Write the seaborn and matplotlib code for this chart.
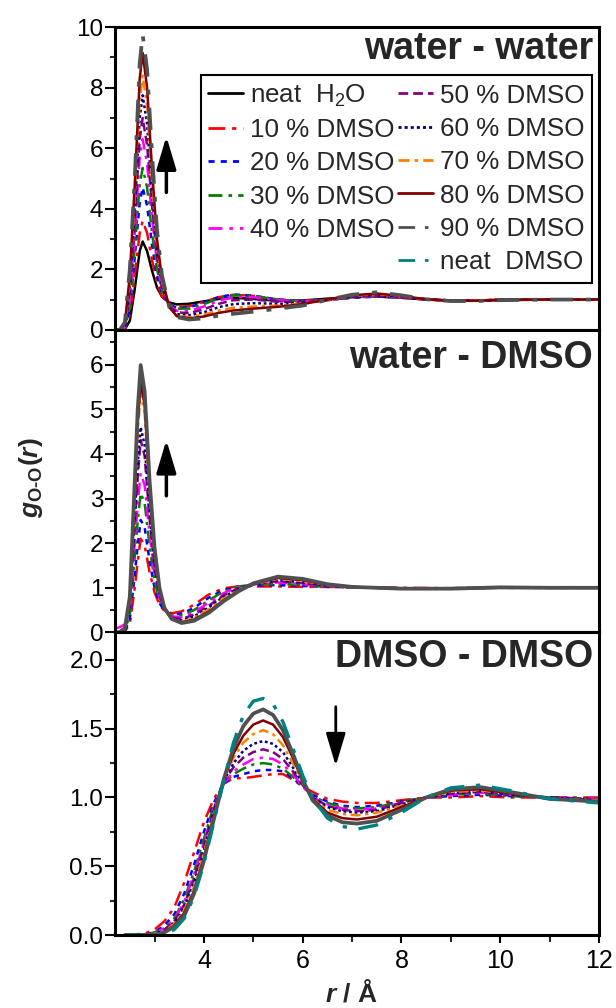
"""
g_O-O(r) radial distribution functions of water/DMSO mixtures
three stacked panels: water-water, water-DMSO, DMSO-DMSO
"""

import matplotlib
matplotlib.use('Agg')
import matplotlib.pyplot as plt
from matplotlib.lines import Line2D
from matplotlib.ticker import MultipleLocator, FormatStrFormatter
import seaborn as sns

# ---- legend / series names ----
names = ['neat  H$_2$O', '10 % DMSO', '20 % DMSO', '30 % DMSO', '40 % DMSO',
         '50 % DMSO', '60 % DMSO', '70 % DMSO', '80 % DMSO', '90 % DMSO',
         'neat  DMSO']

# ---- water - water (r in Angstrom) ----
r_ww = [2.2, 2.3, 2.4, 2.5, 2.6, 2.7, 2.76, 2.85, 2.95, 3.05, 3.15, 3.3, 3.45,
        3.7, 4.0, 4.3, 4.6, 5.0, 5.5, 6.0, 6.5, 7.0, 7.5, 8.0, 8.5, 9.0, 9.5,
        10.0, 11.0, 12.0]
ww_h2o = [0, 0, 0.02, 0.3, 1.35, 2.6, 2.92, 2.6, 1.95, 1.4, 1.1, 0.9, 0.84,
          0.86, 0.94, 1.02, 1.06, 1.02, 0.96, 0.97, 1.03, 1.08, 1.1, 1.06, 1.0,
          0.96, 0.96, 0.98, 1.0, 1.0]
ww_10 = [0, 0, 0.04, 0.5, 1.8, 3.2, 3.6, 3.2, 2.3, 1.55, 1.1, 0.85, 0.76,
         0.78, 0.92, 1.08, 1.16, 1.12, 1.0, 0.96, 1.0, 1.06, 1.1, 1.06, 1.0,
         0.97, 0.97, 0.99, 1.0, 1.0]
ww_20 = [0, 0, 0.05, 0.7, 2.4, 4.2, 4.7, 4.1, 2.8, 1.8, 1.2, 0.85, 0.72,
         0.74, 0.9, 1.08, 1.17, 1.13, 1.0, 0.95, 0.99, 1.06, 1.1, 1.07, 1.01,
         0.97, 0.97, 0.99, 1.0, 1.0]
ww_30 = [0, 0, 0.06, 0.8, 2.7, 4.8, 5.35, 4.7, 3.2, 2.0, 1.3, 0.85, 0.7,
         0.7, 0.85, 1.03, 1.14, 1.12, 1.0, 0.94, 0.98, 1.07, 1.12, 1.08, 1.01,
         0.97, 0.97, 0.99, 1.0, 1.0]
ww_40 = [0, 0, 0.08, 1.0, 3.2, 5.7, 6.3, 5.5, 3.7, 2.2, 1.35, 0.8, 0.63,
         0.62, 0.77, 0.96, 1.08, 1.08, 0.98, 0.93, 0.98, 1.08, 1.13, 1.08, 1.01,
         0.97, 0.97, 0.99, 1.0, 1.0]
ww_50 = [0, 0, 0.1, 1.2, 3.6, 6.3, 7.0, 6.1, 4.1, 2.4, 1.4, 0.78, 0.58,
         0.55, 0.68, 0.86, 0.98, 1.0, 0.93, 0.91, 0.98, 1.09, 1.14, 1.09, 1.01,
         0.97, 0.97, 0.99, 1.0, 1.0]
ww_60 = [0, 0, 0.12, 1.4, 4.0, 7.0, 7.75, 6.8, 4.5, 2.6, 1.5, 0.75, 0.52,
         0.48, 0.58, 0.75, 0.85, 0.88, 0.86, 0.89, 0.99, 1.1, 1.16, 1.1, 1.01,
         0.97, 0.97, 0.99, 1.0, 1.0]
ww_70 = [0, 0, 0.15, 1.6, 4.4, 7.6, 8.4, 7.4, 4.9, 2.8, 1.6, 0.75, 0.47,
         0.42, 0.5, 0.64, 0.73, 0.77, 0.8, 0.87, 0.99, 1.12, 1.18, 1.11, 1.01,
         0.96, 0.96, 0.99, 1.0, 1.0]
ww_80 = [0, 0, 0.2, 1.8, 4.8, 8.3, 9.15, 8.0, 5.3, 3.0, 1.7, 0.75, 0.45,
         0.38, 0.44, 0.56, 0.64, 0.7, 0.76, 0.85, 1.0, 1.14, 1.2, 1.12, 1.01,
         0.96, 0.96, 0.99, 1.0, 1.0]
ww_90 = [0, 0, 0.25, 2.0, 5.0, 8.8, 9.75, 8.6, 5.8, 3.3, 1.8, 0.75, 0.42,
         0.34, 0.38, 0.47, 0.53, 0.6, 0.7, 0.8, 0.99, 1.16, 1.24, 1.14, 1.01,
         0.95, 0.95, 0.98, 1.0, 1.0]

# ---- water - DMSO ----
r_wd = [2.2, 2.3, 2.4, 2.5, 2.6, 2.66, 2.72, 2.8, 2.9, 3.0, 3.1, 3.2, 3.35,
        3.55, 3.8, 4.1, 4.4, 4.7, 5.0, 5.5, 6.0, 6.5, 7.0, 8.0, 9.0, 10.0,
        11.0, 12.0]
wd_10 = [0, 0, 0.02, 0.2, 1.0, 1.6, 2.1, 1.95, 1.35, 0.9, 0.62, 0.48, 0.43,
         0.47, 0.62, 0.85, 0.99, 1.03, 1.03, 1.03, 1.02, 1.02, 1.01, 1.0, 0.99,
         1.0, 1.0, 1.0]
wd_20 = [0, 0, 0.03, 0.3, 1.3, 1.95, 2.52, 2.35, 1.6, 1.0, 0.66, 0.48, 0.4,
         0.42, 0.55, 0.78, 0.95, 1.03, 1.05, 1.06, 1.04, 1.02, 1.01, 0.99, 0.99,
         1.0, 1.0, 1.0]
wd_30 = [0, 0, 0.04, 0.4, 1.7, 2.5, 3.12, 2.9, 1.95, 1.15, 0.72, 0.5, 0.38,
         0.38, 0.5, 0.72, 0.92, 1.03, 1.07, 1.09, 1.06, 1.03, 1.01, 0.99, 0.99,
         1.0, 1.0, 1.0]
wd_40 = [0.08, 0.12, 0.18, 0.55, 2.0, 2.9, 3.57, 3.3, 2.2, 1.3, 0.78, 0.5, 0.36,
         0.34, 0.45, 0.67, 0.88, 1.02, 1.08, 1.12, 1.08, 1.04, 1.01, 0.99, 0.99,
         1.0, 1.0, 1.0]
wd_50 = [0, 0, 0.06, 0.6, 2.4, 3.5, 4.31, 3.95, 2.55, 1.45, 0.85, 0.52, 0.33,
         0.3, 0.4, 0.6, 0.83, 0.99, 1.08, 1.15, 1.1, 1.05, 1.01, 0.99, 0.99,
         1.0, 1.0, 1.0]
wd_60 = [0, 0, 0.07, 0.65, 2.6, 3.8, 4.6, 4.2, 2.7, 1.55, 0.88, 0.52, 0.31,
         0.27, 0.36, 0.56, 0.8, 0.97, 1.08, 1.17, 1.12, 1.05, 1.01, 0.99, 0.99,
         1.0, 1.0, 1.0]
wd_70 = [0, 0, 0.08, 0.72, 3.0, 4.5, 5.39, 4.9, 3.1, 1.75, 0.95, 0.54, 0.3,
         0.24, 0.32, 0.52, 0.76, 0.95, 1.08, 1.2, 1.15, 1.06, 1.01, 0.98, 0.98,
         1.01, 1.0, 1.0]
wd_80 = [0, 0, 0.09, 0.76, 3.2, 4.7, 5.59, 5.1, 3.25, 1.82, 0.98, 0.55, 0.3,
         0.22, 0.29, 0.47, 0.72, 0.93, 1.09, 1.22, 1.17, 1.07, 1.02, 0.98, 0.98,
         1.01, 1.0, 1.0]
wd_90 = [0, 0.01, 0.1, 0.8, 3.4, 5.0, 5.99, 5.4, 3.4, 1.9, 1.0, 0.55, 0.3,
         0.21, 0.26, 0.44, 0.7, 0.92, 1.1, 1.25, 1.2, 1.08, 1.02, 0.98, 0.98,
         1.01, 1.0, 1.0]

# ---- DMSO - DMSO ----
r_dd = [2.4, 2.8, 3.0, 3.2, 3.4, 3.6, 3.8, 4.0, 4.2, 4.4, 4.6, 4.8, 5.0, 5.2,
        5.4, 5.6, 5.8, 6.0, 6.2, 6.5, 6.8, 7.1, 7.5, 8.0, 8.5, 9.0, 9.6, 10.2,
        11.0, 12.0]
dd_10 = [0, 0.01, 0.04, 0.1, 0.2, 0.38, 0.6, 0.82, 0.99, 1.1, 1.14, 1.14,
         1.15, 1.16, 1.17, 1.17, 1.13, 1.08, 1.04, 0.99, 0.97, 0.96, 0.96, 0.98,
         1.0, 1.0, 1.01, 1.0, 1.0, 1.0]
dd_20 = [0, 0, 0.02, 0.07, 0.15, 0.3, 0.51, 0.75, 0.96, 1.1, 1.15, 1.17,
         1.19, 1.2, 1.2, 1.19, 1.14, 1.08, 1.02, 0.97, 0.94, 0.93, 0.94, 0.97,
         1.0, 1.01, 1.02, 1.01, 1.0, 0.99]
dd_30 = [0, 0, 0.02, 0.05, 0.12, 0.26, 0.46, 0.7, 0.94, 1.1, 1.17, 1.21,
         1.24, 1.25, 1.24, 1.21, 1.15, 1.08, 1.01, 0.96, 0.93, 0.92, 0.93, 0.97,
         1.0, 1.02, 1.03, 1.01, 1.0, 0.99]
dd_40 = [0, 0, 0.01, 0.05, 0.11, 0.24, 0.44, 0.67, 0.92, 1.1, 1.19, 1.24,
         1.28, 1.29, 1.28, 1.24, 1.17, 1.08, 1.0, 0.95, 0.92, 0.91, 0.92, 0.96,
         1.0, 1.02, 1.035, 1.02, 1.0, 0.99]
dd_50 = [0, 0, 0.01, 0.04, 0.1, 0.22, 0.41, 0.65, 0.91, 1.11, 1.22, 1.29,
         1.33, 1.35, 1.33, 1.28, 1.19, 1.09, 1.0, 0.94, 0.91, 0.9, 0.91, 0.96,
         1.0, 1.03, 1.04, 1.02, 1.0, 0.98]
dd_60 = [0, 0, 0.01, 0.03, 0.09, 0.2, 0.38, 0.62, 0.9, 1.12, 1.25, 1.34,
         1.39, 1.41, 1.39, 1.33, 1.22, 1.1, 1.0, 0.93, 0.9, 0.89, 0.9, 0.95,
         1.0, 1.03, 1.045, 1.02, 1.0, 0.98]
dd_70 = [0, 0, 0.01, 0.03, 0.08, 0.18, 0.35, 0.59, 0.88, 1.13, 1.29, 1.4,
         1.46, 1.49, 1.46, 1.38, 1.25, 1.11, 0.99, 0.91, 0.88, 0.87, 0.89, 0.94,
         1.0, 1.04, 1.05, 1.03, 0.99, 0.98]
dd_80 = [0, 0, 0, 0.02, 0.07, 0.16, 0.32, 0.56, 0.86, 1.13, 1.32, 1.45,
         1.53, 1.56, 1.53, 1.44, 1.29, 1.12, 0.99, 0.89, 0.85, 0.84, 0.86, 0.93,
         1.0, 1.05, 1.06, 1.03, 0.99, 0.97]
dd_90 = [0, 0, 0, 0.02, 0.06, 0.14, 0.3, 0.54, 0.84, 1.13, 1.36, 1.52,
         1.61, 1.64, 1.6, 1.49, 1.32, 1.13, 0.98, 0.87, 0.82, 0.81, 0.83, 0.91,
         1.0, 1.06, 1.075, 1.04, 0.99, 0.97]
dd_dmso = [0, 0, 0, 0.01, 0.04, 0.12, 0.28, 0.52, 0.82, 1.12, 1.4, 1.6,
           1.7, 1.72, 1.68, 1.55, 1.36, 1.16, 1.0, 0.85, 0.79, 0.77, 0.8, 0.89,
           1.0, 1.07, 1.09, 1.05, 0.99, 0.96]

# ---- styles (same order as names) ----
colors = ['#000000', '#ff0000', '#0000ff', '#008000', '#ff00ff', '#800080',
          '#000080', '#ff8000', '#800000', '#505050', '#008080']
styles = ['-', (0, (6, 2.5, 1.5, 2.5)), (0, (2.2, 2.2)), (0, (5, 2.2, 1.3, 2.2)),
          (0, (5, 2.5, 1.3, 2.5)), (0, (3.5, 1.8)), (0, (1.1, 1.1)),
          (0, (4, 1.8, 1.3, 1.8)), '-', (0, (6, 3.5, 1.3, 3.5)), (0, (6, 3.5, 1.3, 3.5))]
widths = [1.8, 1.8, 1.8, 1.8, 1.8, 1.8, 1.8, 1.8, 1.8, 2.7, 2.4]


def draw(ax, r, series, idx, solid_gray=False):
    for k, y in zip(idx, series):
        ls = styles[k]
        if solid_gray and k == 9:
            ls = '-'
        sns.lineplot(x=r, y=y, ax=ax, color=colors[k], linestyle=ls,
                     lw=widths[k], sort=False, estimator=None)


sns.set_theme(style='ticks')
plt.rcParams['font.family'] = ['Liberation Sans', 'DejaVu Sans']
plt.rcParams['mathtext.fontset'] = 'custom'
plt.rcParams['mathtext.rm'] = 'Liberation Sans'
plt.rcParams['mathtext.it'] = 'Liberation Sans:italic'
plt.rcParams['mathtext.bf'] = 'Liberation Sans:bold'
plt.rcParams['mathtext.bfit'] = 'Liberation Sans:bold:italic'

fig, axes = plt.subplots(3, 1, figsize=(6.16, 10.08), dpi=100, sharex=True)
fig.subplots_adjust(left=0.1867, right=0.9724, top=0.973, bottom=0.0724, hspace=0)
ax1, ax2, ax3 = axes

draw(ax1, r_ww, [ww_h2o, ww_10, ww_20, ww_30, ww_40, ww_50, ww_60, ww_70, ww_80, ww_90],
     range(10))
draw(ax2, r_wd, [wd_10, wd_20, wd_30, wd_40, wd_50, wd_60, wd_70, wd_80, wd_90],
     range(1, 10), solid_gray=True)
draw(ax3, r_dd, [dd_10, dd_20, dd_30, dd_40, dd_50, dd_60, dd_70, dd_80, dd_90, dd_dmso],
     range(1, 11), solid_gray=True)

ax1.set_ylim(0, 10)
ax1.yaxis.set_major_locator(MultipleLocator(2))
ax1.yaxis.set_minor_locator(MultipleLocator(1))
ax2.set_ylim(0, 6.78)
ax2.yaxis.set_major_locator(MultipleLocator(1))
ax2.yaxis.set_minor_locator(MultipleLocator(0.5))
ax3.set_ylim(0, 2.2)
ax3.yaxis.set_major_locator(MultipleLocator(0.5))
ax3.yaxis.set_minor_locator(MultipleLocator(0.25))
ax3.yaxis.set_major_formatter(FormatStrFormatter('%.1f'))
ax3.set_xlim(2.2, 12)
ax3.xaxis.set_major_locator(MultipleLocator(2))
ax3.xaxis.set_minor_locator(MultipleLocator(1))

for ax in axes:
    for s in ax.spines.values():
        s.set_visible(True)
        s.set_linewidth(2.2)
        s.set_color('black')
    ax.set_xlabel('')
    ax.set_ylabel('')
    ax.tick_params(axis='y', which='major', direction='out', length=7, width=1.5,
                   labelsize=17.5, pad=1.5, colors='black')
    ax.tick_params(axis='y', which='minor', direction='out', length=3.5, width=1.5)
    ax.tick_params(axis='x', which='both', bottom=False, labelbottom=False)
ax3.tick_params(axis='x', which='major', bottom=True, labelbottom=True, direction='out',
                length=6, width=1.5, labelsize=18, pad=4, colors='black')
ax3.tick_params(axis='x', which='minor', bottom=True, direction='out', length=5, width=1.5)

# panel titles
ax1.text(0.988, 0.895, 'water - water', transform=ax1.transAxes, ha='right',
         va='baseline', fontsize=27, fontweight='bold')
ax2.text(0.988, 0.875, 'water - DMSO', transform=ax2.transAxes, ha='right',
         va='baseline', fontsize=27, fontweight='bold')
ax3.text(0.988, 0.886, 'DMSO - DMSO', transform=ax3.transAxes, ha='right',
         va='baseline', fontsize=27, fontweight='bold')

# arrows
arrow_kw = dict(arrowstyle='-|>,head_length=0.5,head_width=0.15', color='black',
                lw=2.5, shrinkA=0, shrinkB=0, mutation_scale=40)
ax1.annotate('', xy=(3.24, 6.39), xytext=(3.24, 4.54), arrowprops=arrow_kw)
ax2.annotate('', xy=(3.24, 4.31), xytext=(3.24, 3.06), arrowprops=arrow_kw)
arrow_kw2 = dict(arrow_kw, lw=2)
ax3.annotate('', xy=(6.67, 1.23), xytext=(6.67, 1.66), arrowprops=arrow_kw2)

# legend: 5 entries in first column, 6 in second
handles = [Line2D([], [], color=colors[k], linestyle=styles[k], lw=2) for k in range(11)]
blank = Line2D([], [], color='none')
leg_handles = handles[:5] + [blank] + handles[5:]
leg_labels = names[:5] + [''] + names[5:]
leg = ax1.legend(leg_handles, leg_labels, ncol=2, loc='upper right',
                 bbox_to_anchor=(0.986, 0.843), fontsize=18.7, frameon=True,
                 fancybox=False, framealpha=1, edgecolor='black',
                 handlelength=1.35, handletextpad=0.25, columnspacing=0.15,
                 labelspacing=0.36, borderpad=0.3, borderaxespad=0)
leg.get_frame().set_linewidth(1.5)

# axis labels
hyph = '\u2010'
ylab = r'$\mathbfit{g}_{\mathbf{O' + hyph + r'O}}\mathbf{(}\mathbfit{r}\mathbf{)}$'
fig.text(0.05, 0.526, ylab, rotation=90, ha='center', va='center', fontsize=19)
fig.text(0.571, 0.006, r'$\mathbfit{r}$' + ' / Å', ha='center', va='baseline',
         fontsize=19, fontweight='bold')

fig.savefig('out.png', dpi=100)
